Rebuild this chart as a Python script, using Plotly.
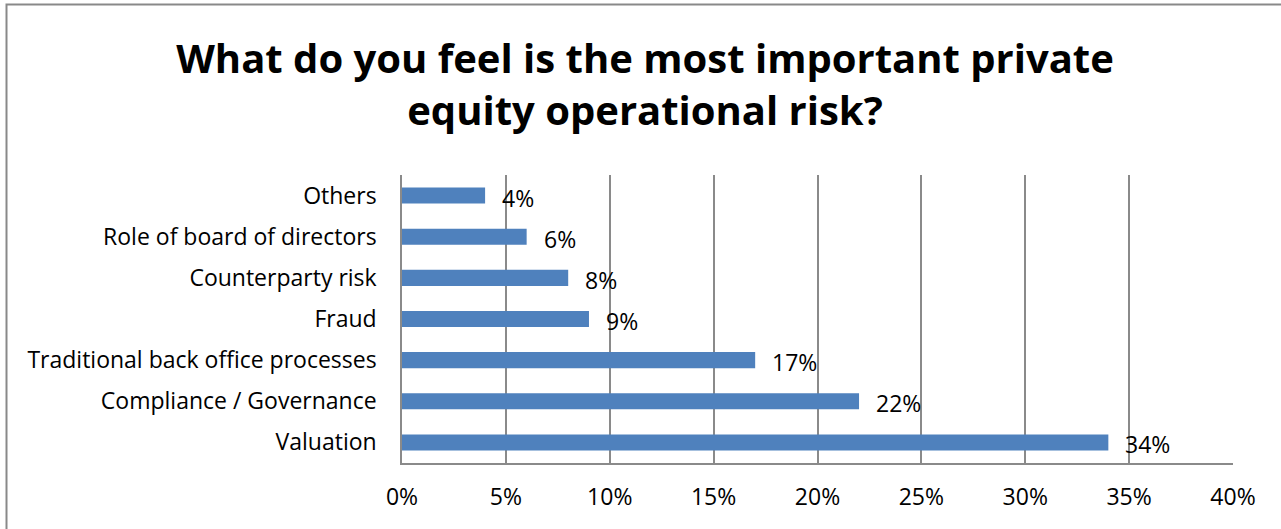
import plotly.graph_objects as go

categories = ["Valuation", "Compliance / Governance", "Traditional back office processes",
              "Fraud", "Counterparty risk", "Role of board of directors", "Others"]
values = [34, 22, 17, 9, 8, 6, 4]
x_ticks = [0, 5, 10, 15, 20, 25, 30, 35, 40]
x_tick_labels = [f"{v}%" for v in x_ticks]
title_text = "What do you feel is the most important private<br>equity operational risk?"

FONT = "Open Sans"
GRID = "#8A8A8A"
LBL = 23

fig = go.Figure()
fig.add_trace(go.Bar(
    x=values, y=categories, orientation="h",
    marker=dict(color="#4F81BD", line=dict(width=0)),
    hoverinfo="skip",
))

for v, c in zip(values, categories):
    fig.add_annotation(x=v, y=c, text=f"{v}%", showarrow=False,
                       xanchor="left", yanchor="middle", xshift=15, yshift=-2,
                       font=dict(family=FONT, size=LBL, color="#000000"))

fig.update_layout(
    width=1281, height=529,
    margin=dict(l=402, r=48, t=175, b=66),
    paper_bgcolor="white", plot_bgcolor="white",
    bargap=0.61,
    showlegend=False,
    title=dict(text=title_text, x=645 / 1281, xanchor="center", xref="container",
               y=1 - 73 / 529, yanchor="middle", yref="container",
               font=dict(family=FONT, size=40, color="#000000", weight="bold")),
    font=dict(family=FONT, size=LBL, color="#000000"),
)
fig.update_xaxes(range=[0, 40], tickvals=x_ticks, ticktext=x_tick_labels,
                 showgrid=True, gridcolor=GRID, gridwidth=1.5,
                 showline=True, linecolor=GRID, linewidth=1.5,
                 ticks="", ticklabelstandoff=13, zeroline=False,
                 tickfont=dict(family=FONT, size=LBL))
fig.update_yaxes(showgrid=False, showline=True, linecolor=GRID, linewidth=1.5,
                 ticks="", ticklabelstandoff=19,
                 tickfont=dict(family=FONT, size=LBL))

# outer chart frame
fig.add_shape(type="rect", xref="paper", yref="paper",
              x0=(6.5 - 402) / 831, x1=1.2, y0=-0.5, y1=1 + (175 - 4.5) / 288,
              line=dict(color="#898989", width=2), fillcolor="rgba(0,0,0,0)", layer="below")

fig.write_html("out.html", config={"displayModeBar": False},
               post_script="document.body.style.margin='0';")
